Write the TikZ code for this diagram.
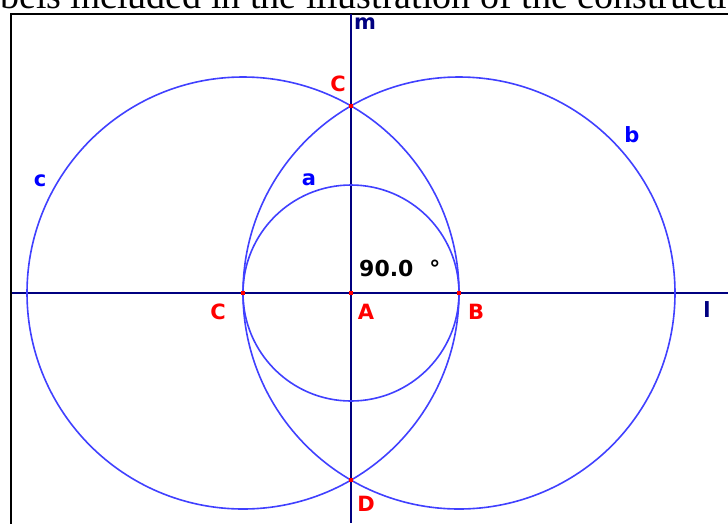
\documentclass[tikz,border=0pt]{standalone}
\usepackage{fontspec}
\setmainfont{Liberation Serif}
\newfontfamily\geofont{DejaVu Sans Bold}
\definecolor{circblue}{RGB}{64,64,255}
\definecolor{linenavy}{RGB}{0,0,128}
\definecolor{labblue}{RGB}{0,0,255}
\tikzset{
  circ/.style={draw=circblue, line width=1.6pt},
  axis/.style={draw=linenavy, line width=1.4pt},
  pt/.style={rectangle, fill=red, inner sep=0pt, minimum size=4pt},
  lab/.style={inner sep=0pt, font=\geofont\fontsize{21}{21}\selectfont},
}
\begin{document}
\begin{tikzpicture}[x=1pt,y=1pt,yscale=-1,xscale=1]
\useasboundingbox (0,0) rectangle (728,523);
\clip (0,0) rectangle (728,523);

% --- 1. caption line cut off at the top ---
\node [anchor=base west, inner sep=0pt, font=\fontsize{38}{38}\selectfont] (caption) at (0,8) {bels included in the illustration of the constructi};

% --- 2. frame ---
\draw [line width=2pt] (11,13.5) rectangle (745,545);

% --- 3. points and line ends ---
\coordinate (A) at (351,293);
\coordinate (B) at (459,293);
\coordinate (C) at (243,293);
\coordinate (Ctop) at (351,105.94);
\coordinate (D) at (351,480.06);
\coordinate (lwest) at (12,293);
\coordinate (least) at (728,293);
\coordinate (mnorth) at (351,14);
\coordinate (msouth) at (351,523);

% --- 4. lines l and m ---
\draw [axis] (lwest) -- (least);
\draw [axis] (mnorth) -- (msouth);

% --- 5. circles a, b, c ---
\draw [circ] (A) circle [radius=108];
\draw [circ] (B) circle [radius=216];
\draw [circ] (C) circle [radius=216];

% --- 6. points ---
\foreach \p in {A,B,C,Ctop,D}
  \node [pt] (pt\p) at (\p) {};

% --- 7. labels ---
\node [lab, text=red] (labA) at (366,312) {A};
\node [lab, text=red] (labB) at (476,312) {B};
\node [lab, text=red] (labC) at (218,312) {C};
\node [lab, text=red] (labCtop) at (338,84) {C};
\node [lab, text=red] (labD) at (366,504) {D};
\node [lab, text=linenavy] (labl) at (707,310) {l};
\node [lab, text=linenavy] (labm) at (365,24) {m};
\node [lab, text=labblue] (laba) at (309,180) {a};
\node [lab, text=labblue] (labb) at (632,135) {b};
\node [lab, text=labblue] (labc) at (40,181) {c};
\node [anchor=west, inner sep=0pt, font=\geofont\fontsize{22}{22}\selectfont] (angle) at (359,268) {90.0\hspace{16pt}°};

\end{tikzpicture}
\end{document}
